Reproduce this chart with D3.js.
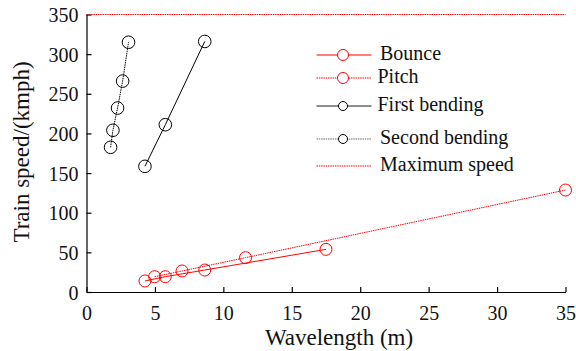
<!DOCTYPE html>
<html>
<head>
<meta charset="utf-8">
<script src="https://cdn.jsdelivr.net/npm/d3@7"></script>
<style>
  body { margin: 0; background: #fff; }
</style>
</head>
<body>
<div id="chart"></div>
<script>
// values (wavelength m, speed kmph)
const bounceX = [4.27, 5.76, 8.64, 17.5];
const bounceY = [13.9, 19.3, 27.7, 53.8];
const pitchX = [4.98, 6.98, 11.62, 35];
const pitchY = [19.3, 26.5, 43.3, 128.6];
const firstX = [4.27, 5.76, 8.64];
const firstY = [158.5, 211, 316];
const secondX = [1.76, 1.93, 2.27, 2.64, 3.07];
const secondY = [182.5, 204, 232, 266, 315];
const maxSpeedX = [0, 35];
const maxSpeedY = [350, 350];
const xTicks = [0, 5, 10, 15, 20, 25, 30, 35];
const yTicks = [0, 50, 100, 150, 200, 250, 300, 350];
const legendNames = ["Bounce", "Pitch", "First bending", "Second bending", "Maximum speed"];

const FONT = '"Liberation Serif"';
const W = 576, H = 351;
const svg = d3.select("#chart").append("svg")
    .attr("width", W).attr("height", H);

const x = d3.scaleLinear().domain([0, 35]).range([86.5, 565.5]);
const y = d3.scaleLinear().domain([0, 350]).range([292, 14.5]);

function zip(xs, ys) { return xs.map((v, i) => [v, ys[i]]); }

const series = [
  {pts: zip(bounceX, bounceY), color: "#ff0000", dash: null, marker: true},
  {pts: zip(pitchX, pitchY), color: "#ff0000", dash: "1.5,0.8", marker: true},
  {pts: zip(firstX, firstY), color: "#000", dash: null, marker: true},
  {pts: zip(secondX, secondY), color: "#000", dash: "1.5,0.8", marker: true},
  {pts: zip(maxSpeedX, maxSpeedY), color: "#ff0000", dash: "1.5,0.8", marker: false}
];

// axes, ticks pointing inward
const gx = svg.append("g")
   .attr("transform", `translate(0, ${y(0)})`)
   .call(d3.axisBottom(x).tickValues(xTicks).tickSizeInner(-5).tickSizeOuter(0).tickPadding(14));
gx.attr("font-family", null).attr("font-size", null);
gx.selectAll("text").style("font-family", FONT).style("font-size", "20px").attr("fill", "#111");

const gy = svg.append("g")
   .attr("transform", `translate(${x(0)}, 0)`)
   .call(d3.axisLeft(y).tickValues(yTicks).tickSizeInner(-5).tickSizeOuter(0).tickPadding(8));
gy.attr("font-family", null).attr("font-size", null);
gy.selectAll("text").style("font-family", FONT).style("font-size", "20px").attr("fill", "#111").attr("dy", "0.36em");

svg.selectAll(".domain, .tick line").attr("stroke", "#000").attr("stroke-width", 1.2);

const line = d3.line().x(d => x(d[0])).y(d => y(d[1]));

series.forEach(s => {
  svg.append("path")
     .datum(s.pts)
     .attr("d", line)
     .attr("fill", "none")
     .attr("stroke", s.color)
     .attr("stroke-width", 1)
     .attr("stroke-dasharray", s.dash);
  if (s.marker) {
    svg.selectAll(null)
       .data(s.pts)
       .enter()
       .append("circle")
       .attr("cx", d => x(d[0]))
       .attr("cy", d => y(d[1]))
       .attr("r", s.color === "#000" ? 6.3 : 6)
       .attr("fill", "none")
       .attr("stroke", s.color)
       .attr("stroke-width", 1);
  }
});

// legend
const legendY = [55, 78, 106, 139, 166];
const legendTextX = [380, 377.5, 377.5, 380, 380];
const legendLine = ["#ff5555", "#ff0000", "#666", "#666", "#ff0000"];
const legend = svg.append("g");
legendNames.forEach((name, i) => {
  const s = series[i];
  legend.append("line")
     .attr("x1", 316.5).attr("x2", 371.5)
     .attr("y1", legendY[i]).attr("y2", legendY[i])
     .attr("stroke", legendLine[i])
     .attr("stroke-width", s.dash ? 1 : 1.3)
     .attr("stroke-dasharray", s.dash);
  if (s.marker) {
    legend.append("circle")
       .attr("cx", 343).attr("cy", legendY[i])
       .attr("r", s.color === "#000" ? 4.5 : 5.5)
       .attr("fill", "#fff")
       .attr("stroke", s.color);
  }
  legend.append("text")
     .attr("x", legendTextX[i])
     .attr("y", legendY[i] + 5)
     .style("font-family", FONT)
     .style("font-size", "20px")
     .attr("fill", "#111")
     .text(name);
});

// axis titles
svg.append("text")
   .attr("x", 339).attr("y", 345)
   .attr("text-anchor", "middle")
   .style("font-family", FONT)
   .style("font-size", "23px")
   .attr("fill", "#111")
   .text("Wavelength (m)");

svg.append("text")
   .attr("transform", "translate(29, 152) rotate(-90)")
   .attr("text-anchor", "middle")
   .style("font-family", FONT)
   .style("font-size", "23px")
   .attr("fill", "#111")
   .text("Train speed/(kmph)");
</script>
</body>
</html>
